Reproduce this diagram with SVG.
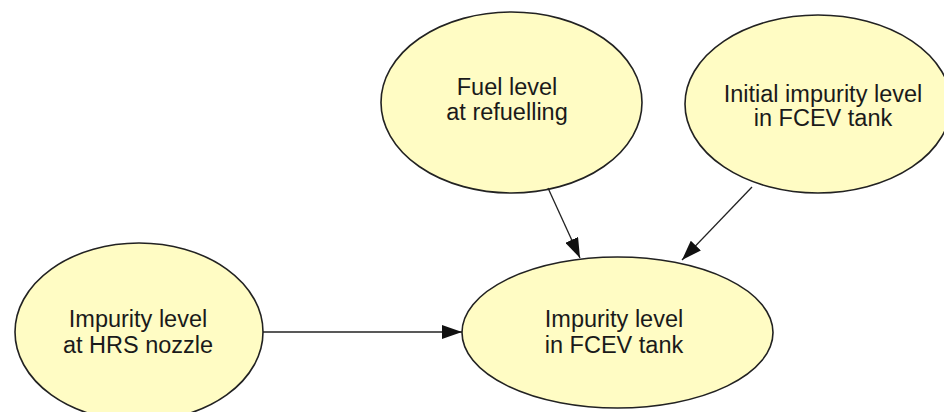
<svg xmlns="http://www.w3.org/2000/svg" width="944" height="412" viewBox="0 0 944 412">
<style>
.node ellipse{fill:#fffcc4;stroke:#222;stroke-width:1.6}
.node text{font-family:"Liberation Sans",Arial,sans-serif;font-size:23.5px;fill:#1a1a1a;text-anchor:middle}
.edge{stroke:#222;stroke-width:1.3;fill:none;marker-end:url(#arr)}
</style>
<defs>
<marker id="arr" viewBox="0 0 20 14" refX="20" refY="7" markerWidth="20" markerHeight="14" markerUnits="userSpaceOnUse" orient="auto">
<path d="M0,0 L20,7 L0,14 Z" fill="#111"/>
</marker>
</defs>
<rect width="944" height="412" fill="#fff"/>
<g id="fuel" class="node">
<ellipse cx="511.5" cy="102.5" rx="130.5" ry="90.5"/>
<text x="507" y="95">Fuel level</text>
<text x="507" y="120">at refuelling</text>
</g>
<g id="initial" class="node">
<ellipse cx="818" cy="104" rx="133" ry="89"/>
<text x="823" y="102">Initial impurity level</text>
<text x="823" y="126">in FCEV tank</text>
</g>
<g id="hrs" class="node">
<ellipse cx="139" cy="332" rx="124" ry="89"/>
<text x="138" y="327">Impurity level</text>
<text x="138" y="353">at HRS nozzle</text>
</g>
<g id="fcev" class="node">
<ellipse cx="617.5" cy="332.5" rx="155.5" ry="75.5"/>
<text x="614" y="327">Impurity level</text>
<text x="614" y="353">in FCEV tank</text>
</g>
<g id="connectors">
<line class="edge" x1="263" y1="332" x2="462" y2="332"/>
<line class="edge" x1="548" y1="188" x2="580" y2="258"/>
<line class="edge" x1="752" y1="187" x2="682" y2="260"/>
</g>
</svg>
